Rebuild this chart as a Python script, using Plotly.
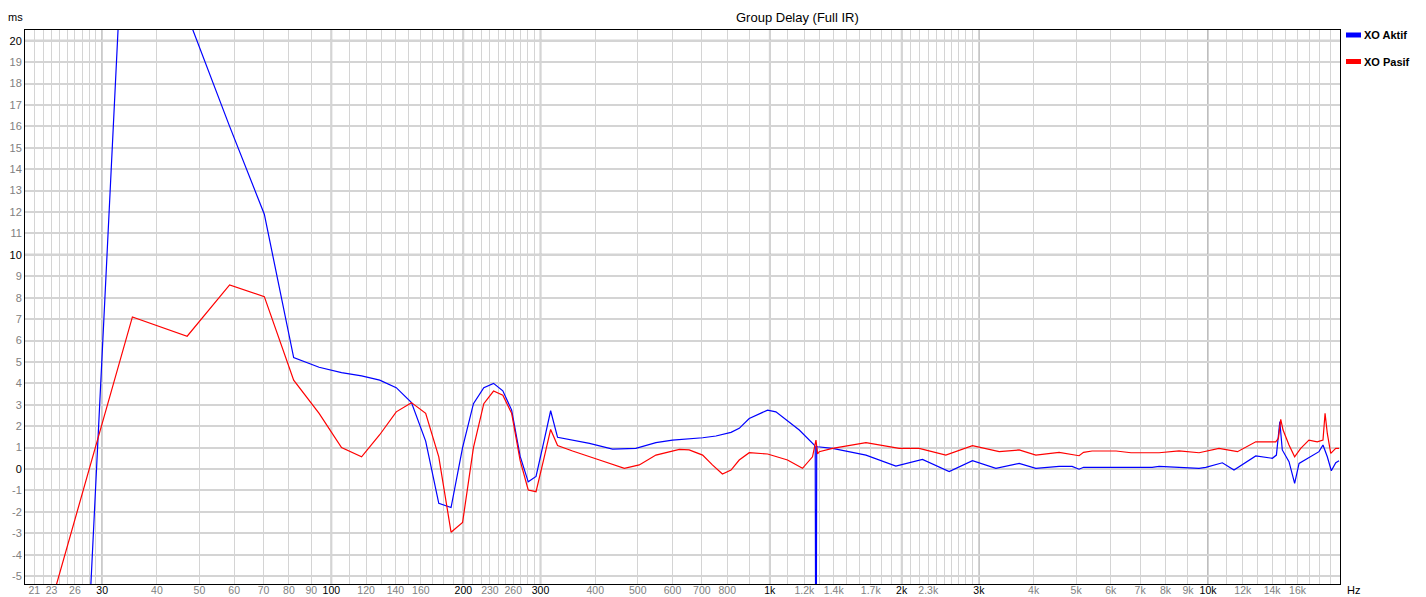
import plotly.graph_objects as go
import math

# ---------------- data ----------------
aktif_freq = [23.44, 35.16, 46.88, 58.59, 70.31, 82.03, 93.75, 105.47, 117.19, 128.9,
              140.6, 152.3, 164.1, 175.8, 187.5, 199.2, 210.9, 222.7, 234.4, 246.1,
              257.8, 269.5, 281.25, 293.0, 304.7, 316.4, 328.1, 355, 388, 438,
              495, 550, 600, 703, 754, 816, 852, 898, 989, 1033,
              1098, 1168, 1264, 1270, 1275, 1280, 1286, 1391, 1658, 1940,
              2231, 2567, 2901, 3281, 3707, 4047, 4574, 4897, 5079, 5200,
              7454, 7733, 8588, 9539, 9881, 10780, 11460, 12080, 12850, 14020,
              14320, 14580, 14770, 15300, 15760, 16130, 17290, 17910, 18290, 18710,
              19110, 19560, 19900]
aktif_ms = [-39.4, 34.2, 21.2, 16.0, 11.9, 5.2, 4.75, 4.5, 4.35, 4.15,
            3.8, 3.1, 1.3, -1.6, -1.8, 1.0, 3.05, 3.8, 4.0, 3.65,
            2.75, 0.6, -0.6, -0.35, 1.2, 2.72, 1.48, 1.35, 1.2, 0.93,
            0.96, 1.23, 1.35, 1.46, 1.54, 1.71, 1.9, 2.36, 2.75, 2.67,
            2.25, 1.82, 1.12, 1.04, -15.0, 1.05, 1.04, 0.96, 0.65, 0.14,
            0.45, -0.12, 0.39, 0.03, 0.26, 0.03, 0.12, 0.12, -0.01, 0.08,
            0.08, 0.12, 0.08, 0.03, 0.08, 0.29, -0.05, 0.26, 0.61, 0.5,
            0.65, 2.21, 0.89, 0.34, -0.67, 0.26, 0.65, 0.81, 1.12, 0.57,
            -0.08, 0.29, 0.39]

pasif_freq = [23.44, 35.16, 46.88, 58.59, 70.31, 82.03, 93.75, 105.47, 117.19, 128.9,
              140.6, 152.3, 164.1, 175.8, 187.5, 199.2, 210.9, 222.7, 234.4, 246.1,
              257.8, 269.5, 281.25, 293.0, 304.7, 316.4, 328.1, 355, 409, 466,
              504, 550, 622, 655, 703, 740, 780, 816, 852, 898,
              989, 1098, 1188, 1252, 1275, 1286, 1297, 1391, 1658, 1974,
              2193, 2522, 2901, 3338, 3707, 4047, 4574, 5079, 5200, 5439,
              6169, 6674, 7733, 8278, 8588, 9539, 10590, 11670, 12850, 14270,
              14470, 14650, 14830, 15300, 15760, 16270, 16990, 17750, 18290, 18490,
              18710, 19050, 19560, 19900]
pasif_ms = [-5.6, 7.1, 6.2, 8.6, 8.05, 4.15, 2.6, 1.0, 0.57, 1.6,
            2.67, 3.1, 2.6, 0.57, -2.95, -2.5, 1.0, 3.05, 3.64, 3.45,
            2.6, 0.4, -0.98, -1.06, 0.4, 1.85, 1.1, 0.84, 0.42, 0.03,
            0.19, 0.65, 0.92, 0.89, 0.65, 0.19, -0.23, -0.05, 0.42, 0.76,
            0.70, 0.42, 0.03, 0.57, 1.35, 0.7, 0.81, 0.96, 1.23, 0.96,
            0.96, 0.65, 1.09, 0.81, 0.89, 0.65, 0.78, 0.62, 0.78, 0.84,
            0.84, 0.76, 0.76, 0.84, 0.85, 0.76, 0.96, 0.81, 1.27, 1.27,
            1.43, 2.32, 1.82, 1.12, 0.57, 0.96, 1.35, 1.27, 1.35, 2.6,
            1.66, 0.73, 0.96, 0.96]

series_names = ["XO Aktif", "XO Pasif"]
series_colors = ["#0000ff", "#ff0000"]

grid_freqs = ([21, 22, 23, 24, 25, 26, 27, 28, 29, 30, 40, 50, 60, 70, 80, 90]
              + list(range(100, 300, 10)) + list(range(300, 1000, 100))
              + list(range(1000, 3000, 100)) + list(range(3000, 10000, 1000))
              + list(range(10000, 20001, 1000)))
labels = {21: "21", 23: "23", 26: "26", 30: "30", 40: "40", 50: "50", 60: "60",
          70: "70", 80: "80", 90: "90", 100: "100", 120: "120", 140: "140",
          160: "160", 200: "200", 230: "230", 260: "260", 300: "300", 400: "400",
          500: "500", 600: "600", 700: "700", 800: "800", 1000: "1k",
          1200: "1.2k", 1400: "1.4k", 1700: "1.7k", 2000: "2k", 2300: "2.3k",
          3000: "3k", 4000: "4k", 5000: "5k", 6000: "6k", 7000: "7k",
          8000: "8k", 9000: "9k", 10000: "10k", 12000: "12k", 14000: "14k",
          16000: "16k"}
major_freqs = [30, 100, 200, 300, 1000, 2000, 3000, 10000]
y_ticks = list(range(-5, 21))
y_major = [0, 10, 20]

# ---------------- layout helpers ----------------
W, H = 1426, 597
L, R, T, B = 25, 1340, 30, 584


def px(x):
    return (x - L) / (R - L)


def py(y):
    return (B - y) / (B - T)


FONT = "Liberation Sans, Arial, sans-serif"

fig = go.Figure()
for f, v, n, c in zip([aktif_freq, pasif_freq], [aktif_ms, pasif_ms], series_names, series_colors):
    fig.add_trace(go.Scatter(x=f, y=v, mode="lines", name=n,
                             line=dict(color=c, width=1.2), showlegend=False))

ticktext = []
for g in grid_freqs:
    t = labels.get(g, "")
    if t and g in major_freqs:
        t = "<span style='color:#000000'>" + t + "</span>"
    ticktext.append(t)

ytext = []
for v in y_ticks:
    if v in y_major:
        ytext.append("<span style='color:#000000'>" + str(v) + "</span>")
    else:
        ytext.append(str(v))

shapes = []
for g in major_freqs:
    shapes.append(dict(type="line", xref="x", yref="paper", x0=g, x1=g, y0=0, y1=1,
                       line=dict(color="#a8a8a8", width=1.6), layer="between"))
for v in y_major:
    shapes.append(dict(type="line", xref="paper", yref="y", x0=0, x1=1, y0=v, y1=v,
                       line=dict(color="#a8a8a8", width=2), layer="between"))

# legend swatches
leg_y = [35, 61.5]
annotations = []
for n, c, yy in zip(series_names, series_colors, leg_y):
    shapes.append(dict(type="rect", xref="paper", yref="paper",
                       x0=px(1346), x1=px(1361), y0=py(yy + 2.5), y1=py(yy - 2.5),
                       fillcolor=c, line=dict(width=0), layer="above"))
    annotations.append(dict(text="<b>" + n + "</b>", xref="paper", yref="paper",
                            x=px(1362), y=py(yy), xanchor="left", yanchor="middle",
                            showarrow=False, font=dict(family=FONT, size=11, color="#000000")))

annotations.append(dict(text="Group Delay (Full IR)", xref="paper", yref="paper",
                        x=px(797), y=py(18), xanchor="center", yanchor="middle",
                        showarrow=False, font=dict(family=FONT, size=13, color="#000000")))
annotations.append(dict(text="ms", xref="paper", yref="paper",
                        x=px(15), y=py(17), xanchor="center", yanchor="middle",
                        showarrow=False, font=dict(family=FONT, size=11, color="#000000")))
annotations.append(dict(text="Hz", xref="paper", yref="paper",
                        x=px(1353), y=py(590), xanchor="center", yanchor="middle",
                        showarrow=False, font=dict(family=FONT, size=11, color="#000000")))

fig.update_layout(
    width=W, height=H,
    margin=dict(l=L, r=W - R, t=T, b=H - B, pad=0, autoexpand=False),
    paper_bgcolor="white", plot_bgcolor="white",
    showlegend=False,
    shapes=shapes, annotations=annotations,
    font=dict(family=FONT, size=11, color="#808080"),
)
fig.update_xaxes(type="log", range=[math.log10(20), math.log10(20000)],
                 tickmode="array", tickvals=grid_freqs, ticktext=ticktext,
                 showgrid=True, gridcolor="#d4d4d4", gridwidth=1.4,
                 showline=True, linecolor="#000000", linewidth=1, mirror=True,
                 ticks="", zeroline=False, automargin=False, ticklabelstandoff=-4,
                 tickfont=dict(family=FONT, size=10.5, color="#808080"))
fig.update_yaxes(range=[-5.37, 20.5], tickmode="array", tickvals=y_ticks, ticktext=ytext,
                 showgrid=True, gridcolor="#d4d4d4", gridwidth=1.6,
                 showline=True, linecolor="#000000", linewidth=1, mirror=True,
                 ticks="", zeroline=False, automargin=False,
                 tickfont=dict(family=FONT, size=11, color="#808080"))

fig.write_html("out.html", config={"displayModeBar": False},
               post_script="document.body.style.margin='0';document.body.style.overflow='hidden';")
